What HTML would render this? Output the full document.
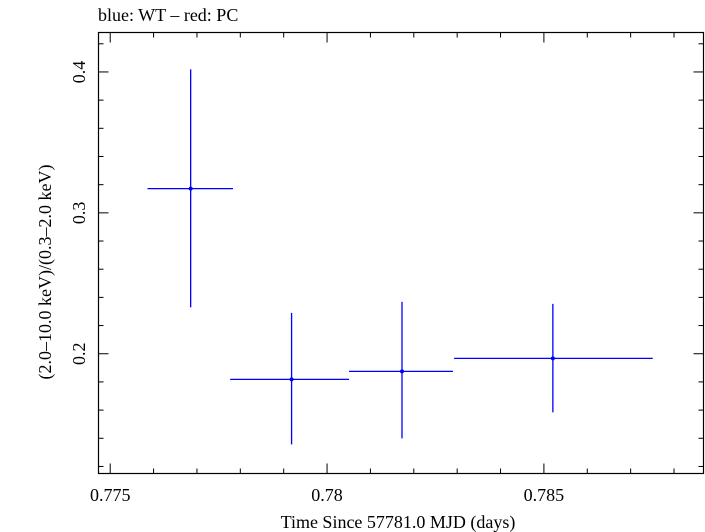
<!DOCTYPE html>
<html><head><meta charset="utf-8"><style>
html,body{margin:0;padding:0;background:#fff;}
svg{display:block;font-family:"Liberation Serif",serif;}
</style></head><body>
<svg id="chart" width="705" height="532">
<text x="98" y="21" font-size="18">blue: WT – red: PC</text>
<rect x="98.5" y="32.5" width="605" height="441" fill="none" stroke="#000" stroke-width="1.2"/>
<g id="ticks"></g>
<g id="marks"></g>
<text x="398" y="528" font-size="18" text-anchor="middle">Time Since 57781.0 MJD (days)</text>
<text transform="translate(51,272) rotate(-90)" font-size="18" text-anchor="middle">(2.0–10.0 keV)/(0.3–2.0 keV)</text>
</svg>
<script>
const xVals=[0.776855,0.779182,0.781728,0.785207];
const xLo=[0.77586,0.777766,0.780507,0.78293];
const xHi=[0.77783,0.780507,0.782903,0.78751];
const yVals=[0.3172,0.1818,0.1875,0.1967];
const yLo=[0.2329,0.1357,0.1399,0.1584];
const yHi=[0.4018,0.2290,0.2368,0.2354];
const xTickLabels=["0.775","0.78","0.785"];
const yTickLabels=["0.2","0.3","0.4"];
const X0=0.77473,X1=0.78868,Y0=0.115,Y1=0.428;
const L=98.5,R=703.5,T=32.5,B=473.5;
const sx=v=>L+(v-X0)/(X1-X0)*(R-L);
const sy=v=>B-(v-Y0)/(Y1-Y0)*(B-T);
const NS="http://www.w3.org/2000/svg";
const tg=document.getElementById('ticks'),mg=document.getElementById('marks');
function ln(g,x1,y1,x2,y2,c,w,name){const e=document.createElementNS(NS,'line');
e.setAttribute('x1',x1);e.setAttribute('y1',y1);e.setAttribute('x2',x2);e.setAttribute('y2',y2);
e.setAttribute('stroke',c);e.setAttribute('stroke-width',w);


g.appendChild(e);}
function tx(x,y,s,anchor,rot,name){const e=document.createElementNS(NS,'text');
e.setAttribute('font-size','18');e.setAttribute('text-anchor',anchor);
if(rot)e.setAttribute('transform',`translate(${x},${y}) rotate(-90)`);else{e.setAttribute('x',x);e.setAttribute('y',y);}
e.textContent=s;


tg.appendChild(e);}
for(let i=0;i<=14;i++){const v=0.775+i*0.001;if(v>X1)break;const x=sx(v);const maj=i%5==0;const l=maj?10:5;
ln(tg,x,B,x,B-l,'#000',1,'x-tick');ln(tg,x,T,x,T+l,'#000',1,'x-tick-top');}
xTickLabels.forEach(s=>tx(sx(+s),501,s,'middle',false,'x-tick-label'));
for(let i=0;i<=16;i++){const v=0.12+i*0.02;if(v>Y1)break;const y=sy(v);const maj=Math.abs((v*10)-Math.round(v*10))<1e-6;const l=maj?10:5;
ln(tg,L,y,L+l,y,'#000',1,'y-tick');ln(tg,R,y,R-l,y,'#000',1,'y-tick-right');}
yTickLabels.forEach(s=>tx(85,sy(+s),s,'middle',true,'y-tick-label'));
xVals.forEach((v,i)=>{
ln(mg,sx(xLo[i]),sy(yVals[i]),sx(xHi[i]),sy(yVals[i]),'#0000ff',1.3,'x-error-bar');
ln(mg,sx(v),sy(yLo[i]),sx(v),sy(yHi[i]),'#0000ff',1.3,'y-error-bar');
const c=document.createElementNS(NS,'circle');c.setAttribute('cx',sx(v));c.setAttribute('cy',sy(yVals[i]));c.setAttribute('r',2);c.setAttribute('fill','#0000ff');


mg.appendChild(c);});
</script>
</body></html>
